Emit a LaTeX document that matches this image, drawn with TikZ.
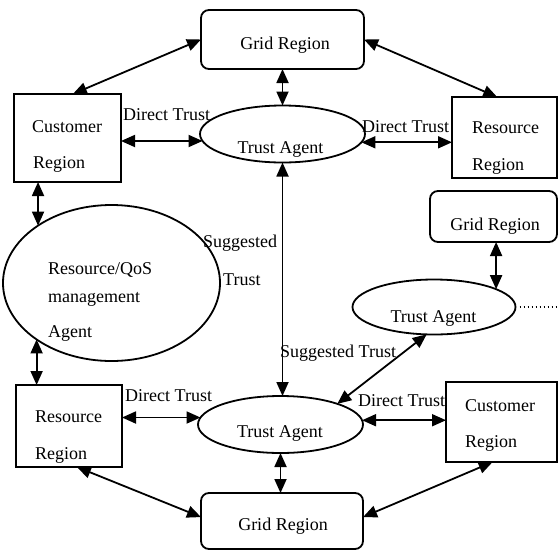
\documentclass[tikz,border=0pt]{standalone}
\usepackage{fontspec}
\setmainfont{Liberation Serif}
\usetikzlibrary{arrows.meta,calc,shapes.geometric}
\begin{document}
\begin{tikzpicture}[x=1pt,y=-1pt,
  lw/.style={line width=1.8pt},
  boxn/.style={draw,lw,rectangle,inner sep=0pt,outer sep=0pt},
  rbox/.style={boxn,rounded corners=8pt},
  ell/.style={draw,lw,ellipse,inner sep=0pt,outer sep=0pt},
  txt/.style={inner sep=0pt,font=\fontsize{18}{20}\selectfont},
  dar/.style={lw,{Triangle[length=14pt,width=12pt]}-{Triangle[length=14pt,width=12pt]}},
]
\useasboundingbox (0,0) rectangle (559,552);
\fill[white] (0,0) rectangle (559,552);
% shapes
\node[rbox,minimum width=163pt,minimum height=59pt] (gridT) at (282.5,39.5) {};
\node[boxn,minimum width=107pt,minimum height=88pt] (custTL) at (67.5,138) {};
\node[ell,minimum width=165pt,minimum height=57pt] (taT) at (282.5,134) {};
\node[boxn,minimum width=105pt,minimum height=81pt] (resTR) at (504.5,137.5) {};
\node[rbox,minimum width=127pt,minimum height=51pt] (gridR) at (493.5,216.5) {};
\node[ell,minimum width=163pt,minimum height=55pt] (taR) at (434,307) {};
\node[ell,minimum width=217pt,minimum height=156pt] (qos) at (111.5,283) {};
\node[boxn,minimum width=106pt,minimum height=82pt] (resBL) at (69,426) {};
\node[ell,minimum width=165pt,minimum height=57pt] (taB) at (280.5,424.5) {};
\node[rbox,minimum width=162pt,minimum height=56pt] (gridB) at (282,521) {};
\node[boxn,minimum width=111pt,minimum height=80pt] (custBR) at (501.5,422) {};
\coordinate (dotEnd) at (559,307);
% texts
\node[txt,anchor=base] (tGridT) at (285,49) {Grid Region};
\node[txt,anchor=base west] (tCust1) at (32,132) {Customer};
\node[txt,anchor=base west] (tCust2) at (33,168) {Region};
\node[txt,anchor=base] (tTaT) at (280.5,153) {Trust Agent};
\node[txt,anchor=base west] (tRes1) at (472,133) {Resource};
\node[txt,anchor=base west] (tRes2) at (472,170) {Region};
\node[txt,anchor=base] (tGridR) at (495,230) {Grid Region};
\node[txt,anchor=base] (tTaR) at (433.5,322) {Trust Agent};
\node[txt,anchor=base west] (tQos1) at (48,274) {Resource/QoS};
\node[txt,anchor=base west] (tQos2) at (48,302) {management};
\node[txt,anchor=base west] (tQos3) at (48,337) {Agent};
\node[txt,anchor=base west] (tSug1) at (203,247) {Suggested};
\node[txt,anchor=base west] (tSug2) at (223,285) {Trust};
\node[txt,anchor=base west] (tSug3) at (280,357) {Suggested Trust};
\node[txt,anchor=base west] (tRes3) at (35,422) {Resource};
\node[txt,anchor=base west] (tRes4) at (35,459) {Region};
\node[txt,anchor=base] (tTaB) at (280,437) {Trust Agent};
\node[txt,anchor=base] (tGridB) at (283,530) {Grid Region};
\node[txt,anchor=base west] (tCust3) at (465,411) {Customer};
\node[txt,anchor=base west] (tCust4) at (465,447) {Region};
\node[txt,anchor=base west] (dt1) at (123,120) {Direct Trust};
\node[txt,anchor=base west] (dt2) at (362,132) {Direct Trust};
\node[txt,anchor=base west] (dt3) at (125,401) {Direct Trust};
\node[txt,anchor=base west] (dt4) at (358,406) {Direct Trust};
% connectors
\draw[dar] ($(custTL.north west)!0.55!(custTL.north east)$) -- (gridT.west);
\draw[dar] (gridT.east) -- ($(resTR.north west)!0.43!(resTR.north east)$);
\draw[dar] (gridT.south) -- (taT.north);
\draw[dar] (custTL.east |- taT.185.8) -- (taT.185.8);
\draw[dar] (taT.354.2) -- (resTR.west |- taT.354.2);
\draw[dar] (qos.142.7 |- custTL.south) -- (qos.142.7);
\draw[dar] (qos.217.3) -- (qos.217.3 |- resBL.north);
\draw[dar] (taT.south) -- (taT.south |- taB.north);
\draw[dar] (taR.16.6 |- gridR.south) -- (taR.16.6);
\draw[dar] (taR.255) -- (taB.20);
\draw[dar] (resBL.east |- taB.175.4) -- (taB.175.4);
\draw[dar] (taB.3.1) -- (custBR.west |- taB.3.1);
\draw[dar] ($(resBL.south west)!0.575!(resBL.south east)$) -- ($(gridB.north west)!0.43!(gridB.south west)$);
\draw[dar] ($(gridB.north east)!0.43!(gridB.south east)$) -- ($(custBR.south west)!0.42!(custBR.south east)$);
\draw[dar] (taB.south) -- (taB.south |- gridB.north);
\draw[lw,dash pattern=on 1.5pt off 2.5pt] (taR.east) ++(4,0) -- (dotEnd);
\end{tikzpicture}
\end{document}
